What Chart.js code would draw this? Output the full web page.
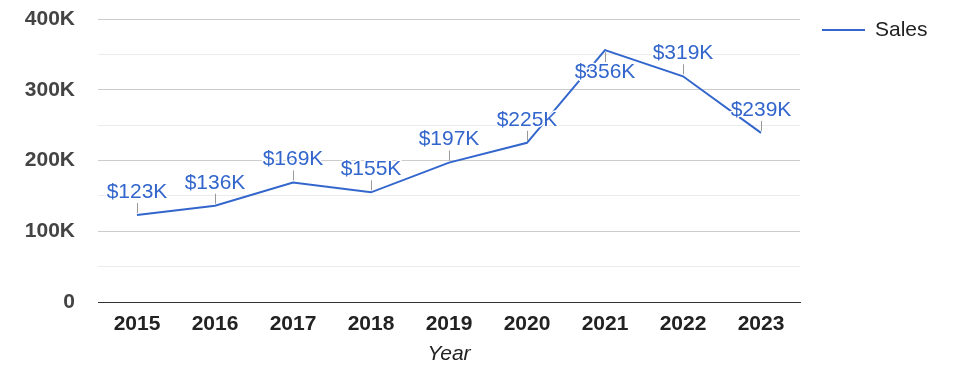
<!DOCTYPE html>
<html>
<head>
<meta charset="utf-8">
<script src="https://cdn.jsdelivr.net/npm/chart.js@4"></script>
<style>
html,body{margin:0;padding:0;background:#fff;}
#wrap{width:975px;height:378px;position:relative;}
</style>
</head>
<body>
<div id="wrap"><canvas id="c" width="975" height="378"></canvas></div>
<script>
const years = ['2015','2016','2017','2018','2019','2020','2021','2022','2023'];
const sales = [123000, 136000, 169000, 155000, 197000, 225000, 356000, 319000, 239000];
const seriesName = 'Sales';
const axisTitleX = 'Year';

const BLUE = '#3366cc';
const FONT = "'Liberation Sans', Arial, sans-serif";

const fmtK = v => '$' + Math.round(v / 1000) + 'K';

const labelPlugin = {
  id: 'annot',
  afterDatasetsDraw(chart) {
    const ctx = chart.ctx;
    const meta = chart.getDatasetMeta(0);
    const area = chart.chartArea;
    ctx.save();
    meta.data.forEach((pt, i) => {
      const x = pt.x, y = pt.y;
      const below = (y - area.top) < 40;
      ctx.strokeStyle = '#999';
      ctx.lineWidth = 1;
      ctx.beginPath();
      if (below) {
        ctx.moveTo(Math.round(x) + 0.5, y + 2);
        ctx.lineTo(Math.round(x) + 0.5, y + 12);
      } else {
        ctx.moveTo(Math.round(x) + 0.5, y - 2);
        ctx.lineTo(Math.round(x) + 0.5, y - 12);
      }
      ctx.stroke();
      const ty = below ? y + 22 : y - 23;
      ctx.font = '21px ' + FONT;
      ctx.textAlign = 'center';
      ctx.textBaseline = 'middle';
      ctx.lineWidth = 3;
      ctx.strokeStyle = '#fff';
      ctx.lineJoin = 'round';
      const t = fmtK(sales[i]);
      ctx.strokeText(t, x, ty);
      ctx.fillStyle = BLUE;
      ctx.fillText(t, x, ty);
    });
    // legend
    ctx.strokeStyle = BLUE;
    ctx.lineWidth = 2;
    ctx.beginPath();
    ctx.moveTo(822, 30);
    ctx.lineTo(865, 30);
    ctx.stroke();
    ctx.font = '21px ' + FONT;
    ctx.fillStyle = '#222';
    ctx.textAlign = 'left';
    ctx.textBaseline = 'middle';
    ctx.fillText(seriesName, 875, 30);
    ctx.restore();
  }
};

new Chart(document.getElementById('c'), {
  type: 'line',
  data: {
    labels: years,
    datasets: [{
      label: seriesName,
      data: sales,
      borderColor: BLUE,
      backgroundColor: BLUE,
      borderWidth: 2,
      pointRadius: 0,
      pointHoverRadius: 0,
      tension: 0,
      fill: false
    }]
  },
  options: {
    responsive: false,
    animation: false,
    devicePixelRatio: 1,
    layout: { padding: { top: 19, right: 175, bottom: 0, left: 0 } },
    plugins: { legend: { display: false }, tooltip: { enabled: false } },
    scales: {
      x: {
        offset: true,
        grid: { display: false, drawTicks: false },
        border: { display: true, color: '#333', width: 1 },
        ticks: { padding: 10, color: '#222', font: { family: FONT, size: 21, weight: 'bold' }, maxRotation: 0 },
        title: { display: true, text: axisTitleX, color: '#222', font: { family: FONT, size: 21, style: 'italic' }, padding: { top: 0, bottom: 11 } },
        afterFit(s) { s.height = 76; s.paddingLeft = 0; s.paddingRight = 0; }
      },
      y: {
        min: 0, max: 400000,
        grid: {
          drawTicks: false,
          color: c => (c.tick && c.tick.value === 0) ? '#333' : ((c.tick && c.tick.value % 100000 === 0) ? '#cccccc' : '#ebebeb'),
          lineWidth: 1
        },
        border: { display: false },
        ticks: {
          stepSize: 50000,
          autoSkip: false,
          padding: 23,
          color: '#444',
          font: { family: FONT, size: 21, weight: 'bold' },
          callback: v => v === 0 ? '0' : (v % 100000 === 0 ? (v / 1000) + 'K' : '')
        },
        afterFit(s) { s.width = 98; s.paddingTop = 0; s.paddingBottom = 0; }
      }
    }
  },
  plugins: [labelPlugin]
});
</script>
</body>
</html>
